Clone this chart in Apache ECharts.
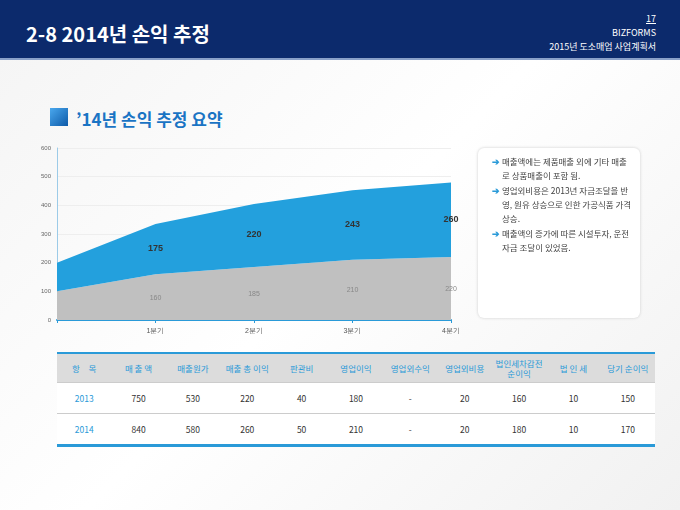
<!DOCTYPE html>
<html><head><meta charset="utf-8">
<script src="https://cdn.jsdelivr.net/npm/echarts@6/dist/echarts.min.js"></script>
<style>
body{margin:0;width:680px;height:510px;overflow:hidden;font-family:"Noto Sans CJK KR","Noto Sans",sans-serif;background:linear-gradient(135deg,#f4f4f4,#ffffff 50%,#f1f1f1);position:relative}
#hdr{position:absolute;left:0;top:0;width:680px;height:58px;background:#0c2a6c;border-bottom:2px solid #8aa0c8}
#hdr .t{position:absolute;left:26px;top:19px;color:#fff;font-size:20px;font-weight:bold}
#hdr .r{position:absolute;right:24px;top:12px;color:#fff;font-size:9px;text-align:right;line-height:14px}
#sub{position:absolute;left:76px;top:106px;font-size:17px;font-weight:bold;color:#1a74c4}
#cube{position:absolute;left:50px;top:108px;width:18px;height:18px;background:linear-gradient(135deg,#4aa8ee,#0d5aa8)}
#note{position:absolute;left:478px;top:148px;width:162px;height:170px;background:#fff;border-radius:6px;box-shadow:0 0 3px #ccc;font-size:8.5px;color:#444;line-height:14px;padding:6px 8px 0 14px;box-sizing:border-box}
#note p{margin:0 0 1px 0;padding-left:10px;text-indent:-10px}
#note b{color:#2a9ad8}
#chart{position:absolute;left:0;top:0;width:680px;height:510px}
table{position:absolute;left:57px;top:352px;width:598px;table-layout:fixed;border-collapse:collapse;font-size:8.5px;text-align:center;border-top:2px solid #2a9ad8;border-bottom:3px solid #2a9ad8;background:#fff}
th{background:#dcdcdc;color:#2a9ad8;font-weight:normal;height:28px;padding:0;line-height:10px}
td{height:30px;padding:0;color:#333;border-top:1px solid #ccc}
td.y{color:#2a9ad8}
</style></head><body>
<div id="hdr"><div class="t">2-8 2014년 손익 추정</div><div class="r"><u>17</u><br>BIZFORMS<br>2015년 도소매업 사업계획서</div></div>
<div id="cube"></div><div id="sub">’14년 손익 추정 요약</div>
<div id="chart"></div>
<div id="note">
<p><b>➔</b> 매출액에는 제품매출 외에 기타 매출로 상품매출이 포함 됨.</p>
<p><b>➔</b> 영업외비용은 2013년 자금조달을 반영, 원유 상승으로 인한 가공식품 가격 상승.</p>
<p><b>➔</b> 매출액의 증가에 따른 시설투자, 운전자금 조달이 있었음.</p>
</div>
<table id="tbl"></table>
<script>
var quarters = ['', '1분기', '2분기', '3분기', '4분기'];
var costValues = [100, 160, 185, 210, 220];
var profitValues = [100, 175, 220, 243, 260];
var tableHead = ['항　목', '매 출 액', '매출원가', '매출 총 이익', '판관비', '영업이익', '영업외수익', '영업외비용', '법인세차감전<br>순이익', '법 인 세', '당기 순이익'];
var row2013 = ['2013', 750, 530, 220, 40, 180, '-', 20, 160, 10, 150];
var row2014 = ['2014', 840, 580, 260, 50, 210, '-', 20, 180, 10, 170];

var h = '<tr>' + tableHead.map(function (t) { return '<th>' + t + '</th>' }).join('') + '</tr>';
[row2013, row2014].forEach(function (r) {
	h += '<tr>' + r.map(function (v, i) { return '<td' + (i === 0 ? ' class="y"' : '') + '>' + v + '</td>' }).join('') + '</tr>';
});
document.getElementById('tbl').innerHTML = h;

var pxPerUnit = 172 / 600;
function items(vals, color, bold) {
	return vals.map(function (v, i) {
		return { value: v, label: { show: i > 0, position: 'top', offset: [0, v * pxPerUnit / 2 + 9], color: color, fontWeight: bold ? 'bold' : 'normal', fontSize: bold ? 9 : 7 } };
	});
}
var myChart = echarts.init(document.getElementById('chart'));
myChart.setOption({
	animation: false,
	grid: { left: 57, top: 148, width: 394, height: 172 },
	xAxis: {
		type: 'category', data: quarters, boundaryGap: false,
		axisLine: { lineStyle: { color: '#2a9ad8', width: 2 } },
		axisTick: { lineStyle: { color: '#2a9ad8' }, length: 3 },
		axisLabel: { fontSize: 7, color: '#555' }
	},
	yAxis: {
		type: 'value', min: 0, max: 600, interval: 100,
		axisLine: { show: true, lineStyle: { color: '#9ccbe8' } },
		axisLabel: { fontSize: 6, color: '#666', margin: 6 },
		splitLine: { lineStyle: { color: '#eee' } }
	},
	series: [
		{ type: 'line', stack: 't', data: items(costValues, '#888', false), symbol: 'circle', symbolSize: 0, showSymbol: true, lineStyle: { width: 0 }, areaStyle: { color: '#c0c0c0', opacity: 1 }, label: { show: true } },
		{ type: 'line', stack: 't', data: items(profitValues, '#333', true), symbol: 'circle', symbolSize: 0, showSymbol: true, lineStyle: { width: 0 }, areaStyle: { color: '#23a0dd', opacity: 1 }, label: { show: true } }
	]
});
</script>
</body></html>
